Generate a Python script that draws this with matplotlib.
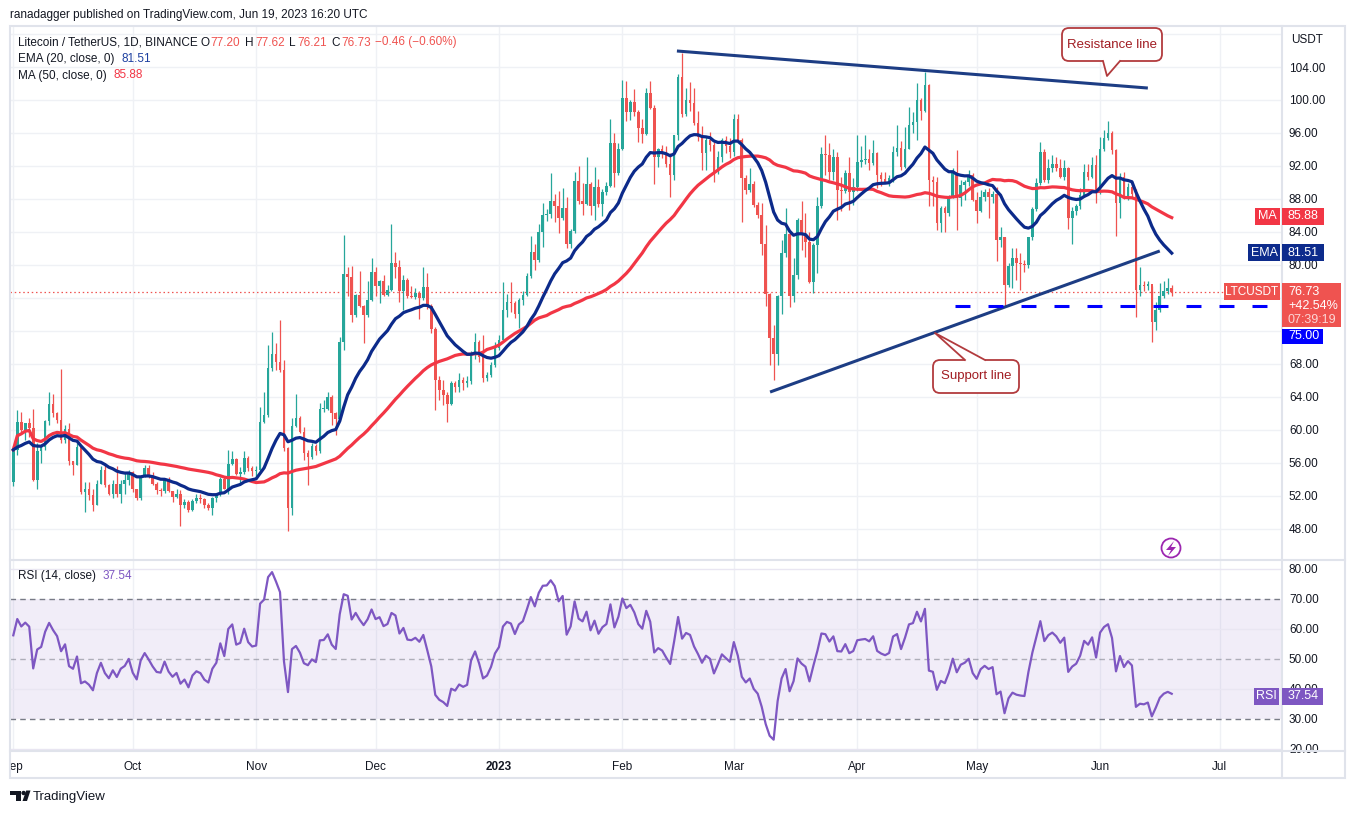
import numpy as np
import pandas as pd
import matplotlib
matplotlib.use("Agg")
import matplotlib.pyplot as plt
from matplotlib.patches import Rectangle, FancyBboxPatch, Polygon, Circle
from matplotlib.lines import Line2D
from matplotlib.transforms import Affine2D

plt.rcParams['font.family'] = ['Liberation Sans', 'DejaVu Sans']

# LTC/USDT daily candles, 1 Sep 2022 .. 19 Jun 2023, (close, high, low)
# open of each day = close of the day before
first_open = 53.7
sep = [(57.6, 58.0, 53.25), (61.0, 62.4, 57.0), (60.0, 62.2, 59.6), (60.8, 60.9, 58.8), (60.3, 61.5, 59.2),
       (53.9, 62.6, 53.8), (57.4, 58.4, 52.9), (57.9, 58.3, 56.0), (61.1, 61.2, 57.6), (63.2, 64.6, 60.6),
       (62.1, 64.4, 61.6), (61.2, 62.2, 60.8), (58.8, 67.4, 58.4), (60.1, 60.6, 58.4), (56.3, 60.9, 55.8),
       (55.8, 56.3, 54.5), (57.9, 58.4, 55.8), (52.5, 58.0, 52.3), (52.8, 53.7, 50.1), (52.1, 53.7, 51.5),
       (50.9, 52.9, 50.2), (53.5, 53.9, 50.9), (55.2, 55.6, 53.5), (53.3, 56.0, 53.1), (52.3, 53.5, 52.1),
       (53.5, 53.9, 51.7), (52.3, 55.6, 51.9), (53.5, 53.9, 51.1), (53.9, 54.9, 52.3), (54.9, 55.2, 53.3)]
oct_ = [(52.8, 55.0, 52.5), (51.7, 52.9, 51.5), (54.3, 54.3, 51.5), (55.4, 55.8, 54.3), (54.5, 55.7, 54.2),
        (53.5, 54.9, 53.3), (52.7, 53.7, 52.2), (52.6, 53.0, 52.0), (53.9, 54.2, 52.4), (52.6, 54.3, 52.5),
        (51.9, 52.6, 51.3), (52.3, 52.8, 51.7), (50.9, 52.7, 48.4), (51.3, 51.6, 50.6), (50.3, 51.5, 50.1),
        (51.4, 51.6, 50.2), (51.8, 52.2, 51.1), (51.6, 52.2, 51.1), (50.9, 51.8, 50.5), (50.6, 51.2, 50.3),
        (51.7, 51.9, 49.7), (52.2, 52.4, 51.3), (54.0, 54.3, 52.0), (52.9, 54.3, 52.8), (55.9, 57.6, 52.3),
        (56.5, 57.4, 55.7), (54.7, 56.6, 54.5), (54.9, 55.5, 53.5), (56.6, 57.5, 54.7), (55.4, 56.8, 55.0),
        (55.0, 55.6, 54.4)]
nov = [(55.1, 55.6, 54.2), (61.0, 62.8, 54.8), (61.8, 64.6, 60.8), (67.5, 70.3, 61.6), (69.2, 71.9, 67.1),
       (68.3, 70.5, 67.3), (67.3, 73.3, 67.0), (57.8, 68.5, 57.5), (50.6, 57.9, 47.7), (60.5, 61.4, 49.7),
       (61.4, 64.4, 60.4), (59.8, 61.7, 59.6), (57.2, 60.4, 56.4), (56.7, 57.6, 53.3), (58.0, 58.4, 56.5),
       (57.4, 58.3, 57.0), (62.5, 63.3, 57.2), (62.6, 63.6, 62.2), (64.0, 64.6, 62.4), (62.1, 64.2, 60.6),
       (61.3, 62.2, 59.4), (70.7, 71.3, 61.2), (78.9, 83.6, 69.7), (78.6, 79.8, 76.2), (73.9, 79.9, 73.1),
       (76.4, 76.5, 73.7), (75.0, 79.3, 74.9), (73.9, 75.1, 70.6), (75.8, 78.0, 73.7), (79.2, 80.8, 75.6)]
dec = [(77.4, 79.8, 76.2), (78.0, 78.2, 75.4), (76.4, 78.8, 76.2), (77.0, 77.6, 76.2), (80.2, 85.0, 76.8),
       (79.8, 81.6, 78.4), (76.8, 80.6, 75.5), (78.2, 78.8, 74.5), (76.2, 78.4, 76.0), (76.1, 77.4, 76.0),
       (76.6, 77.2, 75.9), (76.0, 76.8, 73.5), (77.3, 79.8, 75.8), (75.0, 79.0, 74.7), (72.3, 75.3, 71.7),
       (66.1, 72.5, 62.4), (64.8, 66.5, 63.6), (64.2, 66.1, 63.0), (63.2, 64.6, 61.0), (65.65, 65.9, 63.0),
       (65.25, 65.9, 64.6), (66.1, 66.9, 64.6), (65.65, 66.4, 64.8), (65.9, 66.6, 65.2), (69.3, 69.6, 65.6),
       (70.7, 71.7, 68.6), (68.9, 70.9, 68.3), (66.3, 71.5, 65.8), (66.7, 67.0, 65.9), (67.9, 68.2, 66.4),
       (69.9, 70.7, 67.6)]
jan = [(70.9, 71.5, 69.7), (74.6, 77.9, 70.9), (75.55, 76.5, 73.7), (75.35, 77.9, 74.3), (74.1, 75.6, 73.6),
       (75.8, 76.0, 72.4), (76.4, 76.8, 75.2), (78.7, 79.0, 76.2), (81.6, 83.5, 78.4), (80.6, 82.6, 79.4),
       (84.0, 85.0, 80.4), (86.1, 87.5, 82.2), (86.2, 86.8, 85.3), (87.75, 91.1, 85.65), (87.2, 88.6, 85.25),
       (85.7, 89.0, 83.9), (86.95, 89.3, 85.5), (82.5, 88.3, 82.0), (84.1, 84.4, 82.0), (90.2, 91.3, 83.9),
       (87.8, 92.0, 87.4), (87.4, 89.9, 86.0), (89.8, 93.05, 87.3), (87.1, 90.0, 86.0), (89.4, 91.9, 85.45),
       (87.4, 90.4, 87.0), (88.9, 89.2, 85.9), (89.6, 90.0, 88.5), (94.75, 97.65, 89.4), (91.2, 96.0, 89.5),
       (94.1, 94.75, 90.9)]
feb = [(100.2, 102.4, 93.9), (98.6, 102.3, 97.4), (99.7, 100.0, 97.6), (98.5, 101.3, 98.0), (96.6, 98.8, 94.95),
       (95.85, 97.7, 94.8), (100.8, 101.4, 95.8), (99.0, 102.25, 98.9), (93.05, 99.4, 89.8), (94.1, 94.2, 91.9),
       (93.6, 94.5, 93.0), (92.2, 94.4, 91.9), (90.9, 93.6, 88.3), (95.75, 95.8, 90.3), (102.8, 103.2, 95.2),
       (98.3, 105.65, 97.9), (100.0, 101.5, 98.0), (99.6, 102.2, 98.7), (97.2, 101.4, 97.0), (95.55, 98.7, 95.0),
       (93.6, 96.8, 91.5), (95.15, 95.6, 91.5), (94.5, 96.1, 93.8), (91.3, 94.9, 90.0), (93.1, 93.8, 91.0),
       (95.15, 95.4, 92.5), (94.4, 95.6, 93.6), (93.7, 95.4, 93.0)]
mar = [(97.7, 98.3, 93.2), (95.15, 98.3, 94.9), (90.5, 95.4, 85.25), (89.1, 90.9, 88.6), (89.8, 91.7, 88.8),
       (87.3, 90.2, 87.0), (86.1, 87.6, 85.7), (82.5, 87.5, 81.2), (76.5, 84.8, 75.0), (71.2, 76.6, 67.9),
       (69.2, 72.7, 66.1), (76.2, 76.4, 67.9), (81.4, 83.0, 74.0), (83.8, 86.9, 81.0), (76.2, 84.0, 74.9),
       (78.8, 80.8, 75.5), (85.45, 85.65, 78.3), (83.8, 87.8, 81.8), (82.8, 86.3, 81.0), (77.9, 84.0, 77.8),
       (82.4, 82.7, 76.6), (87.1, 88.3, 79.0), (93.5, 94.3, 86.9), (93.3, 95.8, 90.9), (91.3, 94.75, 90.3),
       (93.1, 94.1, 90.3), (89.1, 93.7, 85.45), (89.0, 90.7, 86.5), (91.2, 91.5, 88.7), (88.9, 93.1, 86.7),
       (89.5, 90.5, 87.3)]
apr = [(92.5, 95.75, 89.0), (92.7, 94.4, 91.9), (92.85, 95.8, 92.3), (92.4, 94.1, 91.5), (93.6, 95.1, 92.1),
       (90.9, 93.7, 89.3), (90.4, 91.3, 89.6), (90.1, 91.3, 89.9), (90.5, 90.9, 89.6), (93.7, 94.4, 90.1),
       (94.2, 97.0, 93.2), (91.9, 95.0, 91.5), (94.1, 96.7, 91.7), (97.0, 99.2, 94.0), (97.3, 98.5, 96.0),
       (100.0, 102.1, 95.2), (98.7, 100.2, 97.6), (101.8, 103.4, 98.5), (90.3, 101.9, 87.1), (90.0, 90.8, 87.1),
       (85.1, 90.7, 84.2), (86.9, 87.1, 84.0), (86.3, 87.1, 84.0), (88.3, 88.5, 85.9), (91.3, 91.7, 88.1),
       (88.1, 93.9, 84.2), (89.7, 90.3, 87.1), (90.1, 90.3, 87.9), (90.9, 91.5, 89.6), (87.9, 91.1, 87.7)]
may = [(86.6, 88.9, 85.1), (88.3, 89.1, 86.4), (88.9, 89.2, 87.8), (88.3, 89.3, 85.7), (88.6, 89.0, 87.5),
       (83.0, 89.5, 80.5), (83.4, 84.6, 82.2), (77.6, 83.4, 74.95), (79.9, 80.2, 77.3), (80.8, 82.0, 77.2),
       (80.3, 82.0, 78.2), (80.1, 81.4, 77.0), (80.0, 80.6, 79.2), (83.4, 83.4, 79.6), (86.75, 87.0, 83.0),
       (89.9, 90.5, 86.5), (93.7, 94.95, 89.7), (90.3, 94.1, 90.1), (91.7, 92.9, 89.9), (92.3, 93.3, 91.3),
       (91.7, 93.1, 91.4), (90.7, 92.9, 90.6), (91.7, 92.7, 90.3), (85.65, 91.9, 84.4), (86.6, 87.0, 82.5),
       (87.1, 87.4, 86.0), (88.5, 89.3, 86.8), (91.3, 92.3, 88.3), (90.7, 92.3, 90.3), (92.1, 93.1, 90.5),
       (88.9, 93.3, 87.5)]
jun = [(94.0, 95.55, 88.6), (95.35, 96.4, 93.8), (96.0, 97.5, 95.2), (93.9, 96.3, 93.5), (87.55, 94.1, 83.5),
       (90.7, 91.1, 85.65), (88.3, 91.3, 88.0), (89.5, 89.9, 87.9), (88.6, 90.1, 88.2), (77.0, 89.2, 73.7),
       (77.6, 79.8, 76.2), (77.4, 78.0, 76.9), (77.7, 78.0, 77.0), (73.1, 77.4, 70.7), (74.55, 75.5, 72.1),
       (76.2, 77.8, 74.3), (76.9, 78.0, 76.0), (77.2, 78.4, 76.5), (76.73, 77.62, 76.21)]

# values printed in the legend / price scale
ema_last = 81.51
ma_last = 85.88
rsi_last = 37.54
support_level = 75.0

# drawings: (day index, price)
resistance_line = [(166.7, 105.94), (285.0, 101.45)]
support_line = [(190.1, 64.6), (288.0, 81.7)]
level_span = (236.5, 315.7)

candles = sep + oct_ + nov + dec + jan + feb + mar + apr + may + jun
close = np.array([c[0] for c in candles])
high = np.array([c[1] for c in candles])
low = np.array([c[2] for c in candles])
opens = np.concatenate([[first_open], close[:-1]])
days = np.arange(len(close))
start = pd.Timestamp("2022-09-01")

# indicators
ema20 = pd.Series(close).ewm(span=20, adjust=False).mean().values
ma50 = pd.Series(close).rolling(50, min_periods=1).mean().values
delta = close - opens
avg_gain, avg_loss = 0.8, 0.8
rsi = []
for d in delta:
    avg_gain = (avg_gain * 13 + max(d, 0)) / 14
    avg_loss = (avg_loss * 13 + max(-d, 0)) / 14
    rsi.append(100 - 100 / (1 + avg_gain / avg_loss))

W, H = 1355, 814
fig = plt.figure(figsize=(W / 100, H / 100), dpi=100)
fig.patch.set_facecolor("white")
px = Affine2D().scale(1.0 / W, -1.0 / H).translate(0, 1) + fig.transFigure
renderer = fig.canvas.get_renderer()

DARK = "#131722"
GRID = "#eff1f5"
RED = "#ef5350"
GREEN = "#26a69a"
FS = 8.5

X0, X1 = -0.83, 318.7
PY0, PY1 = 44.24, 108.97
RY0, RY1 = 19.33, 83.0

month_names = ["Sep", "Oct", "Nov", "Dec", "2023", "Feb", "Mar", "Apr", "May", "Jun", "Jul"]
month_pos = [(m - start).days for m in pd.date_range("2022-09-01", "2023-07-01", freq="MS")]

# ---- price panel ----
ax = fig.add_axes([10 / W, 1 - 560 / H, 1272 / W, 534 / H])
ax.set_xlim(X0, X1)
ax.set_ylim(PY0, PY1)
for s in ax.spines.values():
    s.set_visible(False)
ax.set_xticks([])
ax.yaxis.tick_right()
price_ticks = np.arange(48, 105, 4)
ax.set_yticks(price_ticks)
# labels hidden behind the last-price and 75.00 tags
ax.set_yticklabels(["" if v in (72, 76) else f"{v:.2f}" for v in price_ticks])
ax.tick_params(axis="y", length=0, pad=5, labelsize=FS, labelcolor=DARK)
for v in range(48, 109, 4):
    ax.axhline(v, color=GRID, lw=1, zorder=0)
for m in month_pos:
    ax.axvline(m, color=GRID, lw=1, zorder=0)

colors = np.where(close >= opens, GREEN, RED)
ax.vlines(days, low, high, colors=colors, lw=0.9, zorder=2)
body = np.maximum(np.abs(close - opens), 0.12)
ax.bar(days, body, bottom=np.minimum(opens, close), width=0.66, color=colors, lw=0, zorder=3)

ax.axhline(close[-1], color=RED, lw=0.9, ls=(0, (1.2, 2.2)), zorder=1)
ax.plot(days, ma50, color="#f23645", lw=2.3, zorder=4)
ax.plot(days, ema20, color="#0c2a8a", lw=2.3, zorder=5)
ax.plot(*zip(*resistance_line), color="#1d3d84", lw=2.2, zorder=6, solid_capstyle="butt")
ax.plot(*zip(*support_line), color="#1d3d84", lw=2.2, zorder=6, solid_capstyle="butt")
ax.plot(level_span, [support_level, support_level], color="#0000ff", lw=2.2,
        ls=(0, (4.9, 5.9)), zorder=6)

# ---- RSI panel ----
axr = fig.add_axes([10 / W, 1 - 751 / H, 1272 / W, 191 / H])
axr.set_xlim(X0, X1)
axr.set_ylim(RY0, RY1)
for s in axr.spines.values():
    s.set_visible(False)
axr.set_xticks([])
axr.yaxis.tick_right()
axr.set_yticks(range(20, 81, 10))
axr.set_yticklabels([f"{v:.2f}" for v in range(20, 81, 10)])
axr.tick_params(axis="y", length=0, pad=5, labelsize=FS, labelcolor=DARK)
for m in month_pos:
    axr.axvline(m, color=GRID, lw=1, zorder=0)
axr.axhspan(30, 70, color="#7e57c2", alpha=0.1, lw=0, zorder=0)
for v in (20, 40, 60, 80):
    axr.axhline(v, color="#e9e6f2", lw=1, zorder=1)
for v, a in ((30, 1.0), (50, 0.55), (70, 1.0)):
    axr.axhline(v, color="#787b86", lw=1, ls=(0, (4, 3)), alpha=a, zorder=1)
axr.plot(days, rsi, color="#7e57c2", lw=1.6, zorder=3)

# ---- time axis ----
axt = fig.add_axes([10 / W, 1 - 778 / H, 1272 / W, 27 / H])
axt.set_xlim(X0, X1)
axt.set_ylim(0, 1)
axt.axis("off")
for m, name in zip(month_pos, month_names):
    axt.text(m, 0.42, name, ha="center", va="center", fontsize=FS, color=DARK,
             fontweight="bold" if name == "2023" else "normal", clip_on=True)

# ---- frame ----
def fline(xs, ys, color="#e0e3eb", lw=1.5, z=2):
    fig.add_artist(Line2D(xs, ys, transform=px, color=color, lw=lw, zorder=z))

fig.add_artist(Rectangle((10, 26), 1335, 752, transform=px, fill=False,
                         edgecolor="#e0e3eb", lw=1.5, zorder=2))
fline([10, 1345], [560, 560])
fline([10, 1345], [751, 751])
fline([1282, 1282], [26, 778])

# ---- texts ----
def ftext(x, y, s, color=DARK, size=FS, **kw):
    return fig.text(x, y, s, transform=px, color=color, fontsize=size, va="center", zorder=9, **kw)


def chain(x, y, pieces, size=FS):
    # pieces: (text, colour, gap before next piece)
    for s, c, gap in pieces:
        t = ftext(x, y, s, c, size=size)
        x = t.get_window_extent(renderer).x1 + gap


ftext(10, 15, "ranadagger published on TradingView.com, Jun 19, 2023 16:20 UTC", size=8.5)
chain(18, 42.5, [("Litecoin / TetherUS, 1D, BINANCE", DARK, 3), ("O", DARK, 1), ("77.20", RED, 5),
                 ("H", DARK, 1), ("77.62", RED, 5), ("L", DARK, 1), ("76.21", RED, 5),
                 ("C", DARK, 1), ("76.73", RED, 4), ("\u22120.46 (\u22120.60%)", RED, 0)])
chain(18, 59, [("EMA (20, close, 0)", DARK, 7), (f"{ema_last:.2f}", "#1c3fa0", 0)])
chain(18, 75.5, [("MA (50, close, 0)", DARK, 7), (f"{ma_last:.2f}", "#f23645", 0)])
chain(18, 576, [("RSI (14, close)", DARK, 7), (f"{rsi_last:.2f}", "#7e57c2", 0)])
ftext(1291, 40, "USDT")


def price_y(p):
    return 26 + (PY1 - p) / (PY1 - PY0) * 534


def rsi_y(v):
    return 560 + (RY1 - v) / (RY1 - RY0) * 191


def tag(x0, x1, yc, color, text, h=17, tcolor="white", ha="left", size=9):
    fig.add_artist(Rectangle((x0, yc - h / 2), x1 - x0, h, transform=px, facecolor=color,
                             edgecolor="none", zorder=8))
    if ha == "left":
        ftext(x0 + 6, yc, text, tcolor, size=size)
    else:
        ftext((x0 + x1) / 2, yc, text, tcolor, size=size, ha="center")


y = price_y(ma_last)
tag(1255, 1280, y, "#f23645", "MA", ha="center")
tag(1282, 1324, y, "#f23645", f"{ma_last:.2f}")
y = price_y(ema_last)
tag(1248, 1280, y, "#0d2b8c", "EMA", ha="center")
tag(1282, 1324, y, "#0d2b8c", f"{ema_last:.2f}")
y = price_y(close[-1])
tag(1224, 1280, y, RED, "LTCUSDT", ha="center", size=8.5)
fig.add_artist(Rectangle((1282, y - 8.5), 59, 44, transform=px, facecolor=RED,
                         edgecolor="none", zorder=8))
ftext(1288, y, f"{close[-1]:.2f}", "white", size=9)
ftext(1288, y + 14, "+42.54%", "white", size=9)
ftext(1288, y + 28, "07:39:19", "#fcd6d5", size=9)
tag(1282, 1323, y + 44.5, "#0000ff", f"{support_level:.2f}", h=15)
y = rsi_y(rsi_last)
tag(1254, 1279, y, "#7e57c2", "RSI", ha="center")
tag(1282, 1323, y, "#7e57c2", f"{rsi_last:.2f}")

# ---- callouts ----
EDGE = "#b23b3e"


def callout(box, base, tip, label, inward):
    x0, y0, x1, y1 = box
    fig.add_artist(FancyBboxPatch((x0, y0), x1 - x0, y1 - y0, boxstyle="round,pad=0,rounding_size=7",
                                  transform=px, facecolor="white", edgecolor=EDGE, lw=1.3, zorder=6))
    (bx0, by), (bx1, _) = base
    fig.add_artist(Polygon([(bx0, by + inward), (bx0, by), tip, (bx1, by), (bx1, by + inward)],
                           closed=True, transform=px, facecolor="white", edgecolor="none", zorder=7))
    fline([bx0, tip[0], bx1], [by, tip[1], by], color=EDGE, lw=1.3, z=7)
    ftext((x0 + x1) / 2, (y0 + y1) / 2, label, "#a11c22", size=9.5, ha="center")


callout((1062, 28, 1162, 61), [(1103, 61), (1120, 61)], (1107, 76), "Resistance line", -2)
callout((933, 360, 1019, 393), [(965, 360), (985, 360)], (935, 333), "Support line", 2)

# lightning icon
fig.add_artist(Circle((1171, 548), 9.5, transform=px, fill=False, edgecolor="#9c27b0", lw=1.3, zorder=6))
fig.add_artist(Polygon([(1174, 541), (1166, 550), (1171, 550), (1168, 556), (1176, 547), (1171, 547)],
                       closed=True, transform=px, facecolor="#9c27b0", edgecolor="none", zorder=7))

# TradingView logo
fig.add_artist(Polygon([(10, 790.5), (20.5, 790.5), (20.5, 801), (16, 801), (16, 795), (10, 795)],
                       closed=True, transform=px, facecolor=DARK, edgecolor="none", zorder=6))
fig.add_artist(Circle((23.6, 793), 2.2, transform=px, facecolor=DARK, edgecolor="none", zorder=6))
fig.add_artist(Polygon([(22.5, 801), (27, 801), (30.5, 790.5), (26.2, 790.5)],
                       closed=True, transform=px, facecolor=DARK, edgecolor="none", zorder=6))
ftext(33, 797, "TradingView", size=9.5)

fig.savefig("out.png", dpi=100)
